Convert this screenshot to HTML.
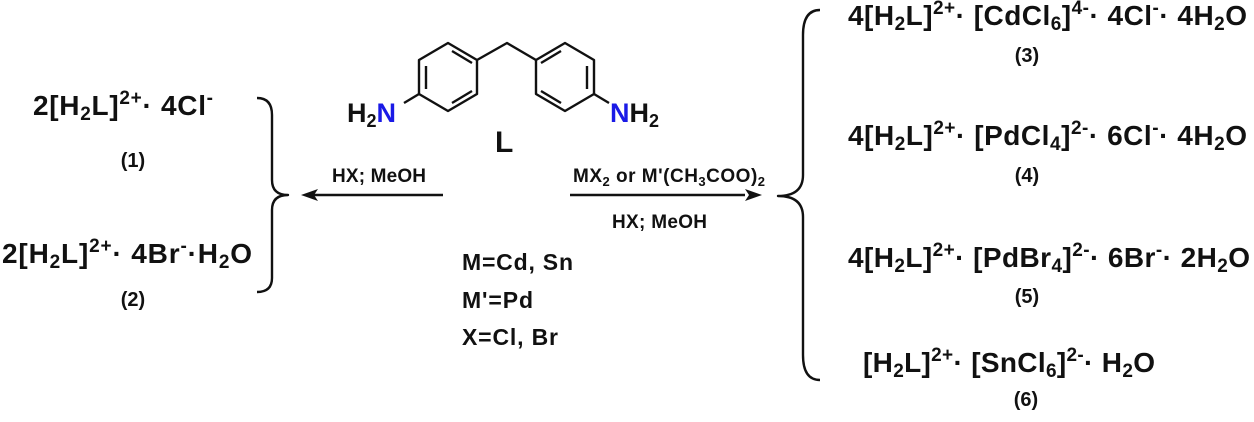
<!DOCTYPE html>
<html><head><meta charset="utf-8"><style>
body{margin:0;background:#fff;width:1254px;height:417px;overflow:hidden;font-family:"Liberation Sans",Arial,sans-serif;}
</style></head><body>
<svg width="1254" height="417" xmlns="http://www.w3.org/2000/svg" font-family="Liberation Sans, Arial, sans-serif" font-weight="bold" fill="#111">
<g stroke="#111" stroke-width="2.4" fill="none" stroke-linejoin="round">
<polygon points="448,43 477,60 477,94 448,111 419,94 419,60"/>
<line x1="426" y1="66" x2="426" y2="89"/><line x1="452" y1="51" x2="472" y2="63"/><line x1="452" y1="103" x2="472" y2="91"/>
<polygon points="565,43 594,60 594,94 565,111 536,94 536,60"/>
<line x1="587" y1="66" x2="587" y2="89"/><line x1="541" y1="63" x2="561" y2="51"/><line x1="541" y1="91" x2="561" y2="103"/>
<polyline points="477,60 507,43 536,60"/>
<line x1="419" y1="94" x2="404" y2="103"/><line x1="594" y1="94" x2="609" y2="103"/>
<path d="M257,98 Q272,98 272,115 L272,180 Q272,195 288,195 Q272,195 272,210 L272,278 Q272,292 257,292"/>
<path d="M820,10 Q803,10 803,35 L803,175 Q803,196 778,196 Q803,196 803,217 L803,355 Q803,380 820,380"/>
<line x1="443" y1="195" x2="310" y2="195"/><line x1="570" y1="195" x2="745" y2="195"/>
</g>
<polygon points="301,195 318,189 314,195 318,201" fill="#111"/>
<polygon points="762,195 745,189 749,195 745,201" fill="#111"/>
<text x="347" y="122" font-size="27">H<tspan font-size="18" dy="5">2</tspan><tspan dy="-5" fill="#1a1ae6">N</tspan></text>
<text x="610" y="122" font-size="27"><tspan fill="#1a1ae6">N</tspan>H<tspan font-size="18" dy="5">2</tspan></text>
<text x="495" y="152" font-size="30">L</text>

<text x="33" y="115" font-size="28" textLength="180" lengthAdjust="spacing">2[H<tspan font-size="19" dy="5">2</tspan><tspan dy="-5">L]</tspan><tspan font-size="19" dy="-11">2+</tspan><tspan dy="11">· 4Cl</tspan><tspan font-size="19" dy="-11">-</tspan></text>
<text x="133" y="167" font-size="20" text-anchor="middle">(1)</text>
<text x="2" y="263" font-size="28" textLength="250" lengthAdjust="spacing">2[H<tspan font-size="19" dy="5">2</tspan><tspan dy="-5">L]</tspan><tspan font-size="19" dy="-11">2+</tspan><tspan dy="11">· 4Br</tspan><tspan font-size="19" dy="-11">-</tspan><tspan dy="11">·H</tspan><tspan font-size="19" dy="5">2</tspan><tspan dy="-5">O</tspan></text>
<text x="133" y="306" font-size="20" text-anchor="middle">(2)</text>

<text x="332" y="182" font-size="19" textLength="94" lengthAdjust="spacing">HX; MeOH</text>
<text x="573" y="182" font-size="19" textLength="192" lengthAdjust="spacing">MX<tspan font-size="13" dy="4">2</tspan><tspan dy="-4"> or M'(CH</tspan><tspan font-size="13" dy="4">3</tspan><tspan dy="-4">COO)</tspan><tspan font-size="13" dy="4">2</tspan></text>
<text x="612" y="228" font-size="19" textLength="95" lengthAdjust="spacing">HX; MeOH</text>
<text x="462" y="270" font-size="23" textLength="111" lengthAdjust="spacing">M=Cd, Sn</text>
<text x="462" y="308" font-size="23" textLength="71" lengthAdjust="spacing">M'=Pd</text>
<text x="462" y="345" font-size="23" textLength="96" lengthAdjust="spacing">X=Cl, Br</text>

<text x="848" y="25" font-size="28" textLength="399" lengthAdjust="spacing">4[H<tspan font-size="19" dy="5">2</tspan><tspan dy="-5">L]</tspan><tspan font-size="19" dy="-11">2+</tspan><tspan dy="11">· [CdCl</tspan><tspan font-size="19" dy="5">6</tspan><tspan dy="-5">]</tspan><tspan font-size="19" dy="-11">4-</tspan><tspan dy="11">· 4Cl</tspan><tspan font-size="19" dy="-11">-</tspan><tspan dy="11">· 4H</tspan><tspan font-size="19" dy="5">2</tspan><tspan dy="-5">O</tspan></text>
<text x="1027" y="62" font-size="20" text-anchor="middle">(3)</text>
<text x="848" y="145" font-size="28" textLength="399" lengthAdjust="spacing">4[H<tspan font-size="19" dy="5">2</tspan><tspan dy="-5">L]</tspan><tspan font-size="19" dy="-11">2+</tspan><tspan dy="11">· [PdCl</tspan><tspan font-size="19" dy="5">4</tspan><tspan dy="-5">]</tspan><tspan font-size="19" dy="-11">2-</tspan><tspan dy="11">· 6Cl</tspan><tspan font-size="19" dy="-11">-</tspan><tspan dy="11">· 4H</tspan><tspan font-size="19" dy="5">2</tspan><tspan dy="-5">O</tspan></text>
<text x="1027" y="182" font-size="20" text-anchor="middle">(4)</text>
<text x="848" y="267" font-size="28" textLength="402" lengthAdjust="spacing">4[H<tspan font-size="19" dy="5">2</tspan><tspan dy="-5">L]</tspan><tspan font-size="19" dy="-11">2+</tspan><tspan dy="11">· [PdBr</tspan><tspan font-size="19" dy="5">4</tspan><tspan dy="-5">]</tspan><tspan font-size="19" dy="-11">2-</tspan><tspan dy="11">· 6Br</tspan><tspan font-size="19" dy="-11">-</tspan><tspan dy="11">· 2H</tspan><tspan font-size="19" dy="5">2</tspan><tspan dy="-5">O</tspan></text>
<text x="1027" y="303" font-size="20" text-anchor="middle">(5)</text>
<text x="863" y="372" font-size="28" textLength="292" lengthAdjust="spacing">[H<tspan font-size="19" dy="5">2</tspan><tspan dy="-5">L]</tspan><tspan font-size="19" dy="-11">2+</tspan><tspan dy="11">· [SnCl</tspan><tspan font-size="19" dy="5">6</tspan><tspan dy="-5">]</tspan><tspan font-size="19" dy="-11">2-</tspan><tspan dy="11">· H</tspan><tspan font-size="19" dy="5">2</tspan><tspan dy="-5">O</tspan></text>
<text x="1026" y="406" font-size="20" text-anchor="middle">(6)</text>
</svg>
</body></html>
